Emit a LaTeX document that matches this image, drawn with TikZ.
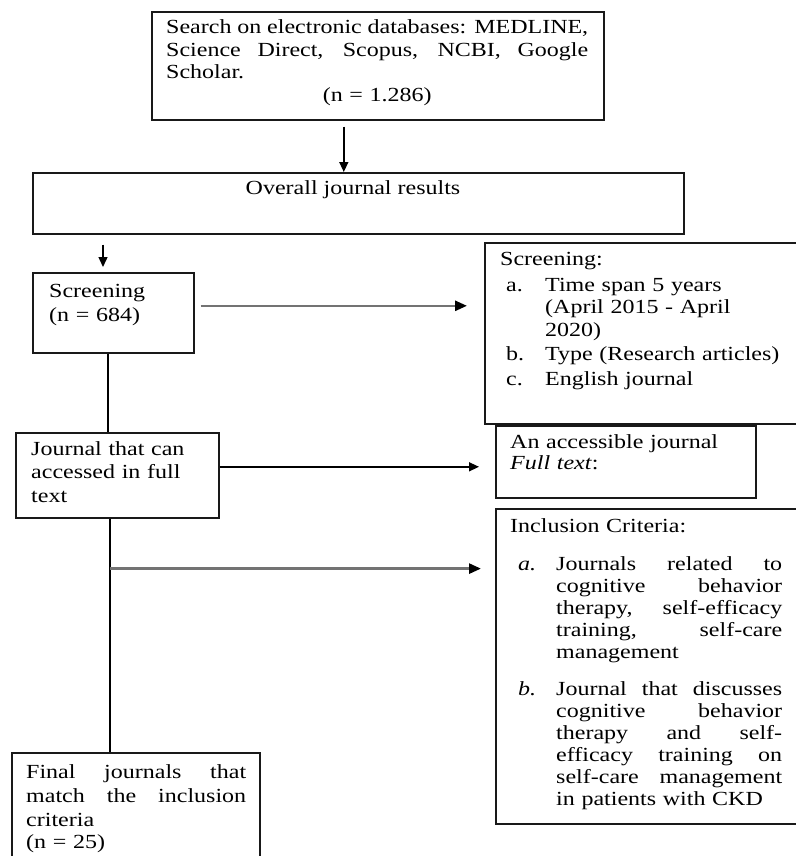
\documentclass[tikz,border=0pt]{standalone}
\usepackage{fontspec}
\setmainfont{Liberation Serif}[FakeStretch=1.2]
\usetikzlibrary{calc,arrows.meta}
\newcommand{\jline}[2]{{\spaceskip=0pt\xspaceskip=0pt\makebox[#1][s]{#2}}}
\tikzset{
	box/.style={draw=black!90, line width=1.6pt, inner sep=0pt, anchor=north west},
	txt/.style={inner sep=0pt, anchor=base west, align=left, font=\fontsize{20}{22.5}\selectfont},
	arr/.style={line width=1.4pt, -{Triangle[length=10pt,width=9pt]}},
	arrg/.style={line width=2.6pt, draw=black!55, -{Triangle[length=12pt,width=10pt,color=black]}},
	link/.style={line width=1.6pt}
}
\begin{document}
\begin{tikzpicture}[x=1pt,y=1pt]
			%%%%% START %%%%%
			\useasboundingbox (0,0) rectangle (795,-856);
			
			\node[box, minimum width=452pt, minimum height=108pt] (search) at (151,-11) {};
			\node[box, minimum width=651pt, minimum height=61pt] (overall) at (32,-172) {};
			\node[box, minimum width=161pt, minimum height=80pt] (screen) at (32,-272) {};
			\node[box, minimum width=330pt, minimum height=181pt] (crit) at (484,-242) {};
			\node[box, minimum width=203pt, minimum height=85pt] (journal) at (15,-432) {};
			\node[box, minimum width=260pt, minimum height=72pt] (access) at (495,-425) {};
			\node[box, minimum width=320pt, minimum height=315pt] (incl) at (495,-508) {};
			\node[box, minimum width=248pt, minimum height=130pt] (final) at (11,-752) {};
			
			\node[txt, text width=424pt] (searchtxt) at (166,-34) {\jline{422pt}{Search on electronic databases: MEDLINE,}\\
				\jline{422pt}{Science Direct, Scopus, NCBI, Google}\\
				Scholar.\\
				\makebox[422pt]{(n = 1.286)}};
			\node[txt, anchor=base] (overalltxt) at (353,-194) {Overall journal results};
			\node[txt, text width=140pt] (screentxt) at (49,-297) {Screening\\[1.5pt] (n = 684)};
			\node[txt, text width=300pt] (crittxt) at (500,-265) {Screening:\\[3.5pt]
				\hspace*{6pt}\makebox[39pt][l]{a.}Time span 5 years\\
				\hspace*{45pt}(April 2015 - April\\
				\hspace*{45pt}2020)\\[1.5pt]
				\hspace*{6pt}\makebox[39pt][l]{b.}Type (Research articles)\\[2.5pt]
				\hspace*{6pt}\makebox[39pt][l]{c.}English journal};
			\node[txt, text width=185pt] (journaltxt) at (31,-455) {Journal that can\\[1pt] accessed in full\\[1pt] text};
			\node[txt, text width=240pt] (accesstxt) at (510,-448) {An accessible journal\\[-1.5pt] \textit{Full text}:};
			\node[txt, text width=290pt, font=\fontsize{20}{22}\selectfont] (incltxt) at (510,-532) {Inclusion Criteria:\\[16pt]
				\hspace*{8pt}\makebox[38pt][l]{\textit{a.}}\jline{226pt}{Journals related to}\\
				\hspace*{46pt}\jline{226pt}{cognitive behavior}\\
				\hspace*{46pt}\jline{226pt}{therapy, self-efficacy}\\
				\hspace*{46pt}\jline{226pt}{training, self-care}\\
				\hspace*{46pt}management\\[15pt]
				\hspace*{8pt}\makebox[38pt][l]{\textit{b.}}\jline{226pt}{Journal that discusses}\\
				\hspace*{46pt}\jline{226pt}{cognitive behavior}\\
				\hspace*{46pt}\jline{226pt}{therapy and self-}\\
				\hspace*{46pt}\jline{226pt}{efficacy training on}\\
				\hspace*{46pt}\jline{226pt}{self-care management}\\
				\hspace*{46pt}in patients with CKD};
			\node[txt, text width=230pt] (finaltxt) at (26,-778) {\jline{220pt}{Final journals that}\\[1.5pt]
				\jline{220pt}{match the inclusion}\\[1.5pt]
				criteria\\
				(n = 25)};
			
			\coordinate (s1) at ($(search.south)+(-34,-6)$);
			\draw[arr] (s1) -- (s1 |- overall.north);
			\coordinate (o1) at ($(overall.south west)+(71,-10)$);
			\draw[arr] (o1) -- ($(o1 |- screen.north)+(0,5)$);
			\coordinate (c1) at ($(screen.east)+(6,7)$);
			\draw[arrg] (c1) -- ($(c1 -| crit.west)+(-17,0)$);
			\coordinate (c2) at ($(screen.south)+(-5.5,0)$);
			\draw[link] (c2) -- (c2 |- journal.north);
			
			\coordinate (j1) at ($(journal.east)+(0,8.5)$);
			\draw[arr] (j1) -- ($(j1 -| access.west)+(-16,0)$);
			\coordinate (j2) at ($(journal.south)+(-7.5,0)$);
			\draw[link] (j2) -- (j2 |- final.north);
			\coordinate (j3) at ($(j2)+(0,-50)$);
			\draw[arrg] (j3) -- ($(j3 -| incl.west)+(-14,0)$);
			%%%%% END %%%%%
\end{tikzpicture}
\end{document}
